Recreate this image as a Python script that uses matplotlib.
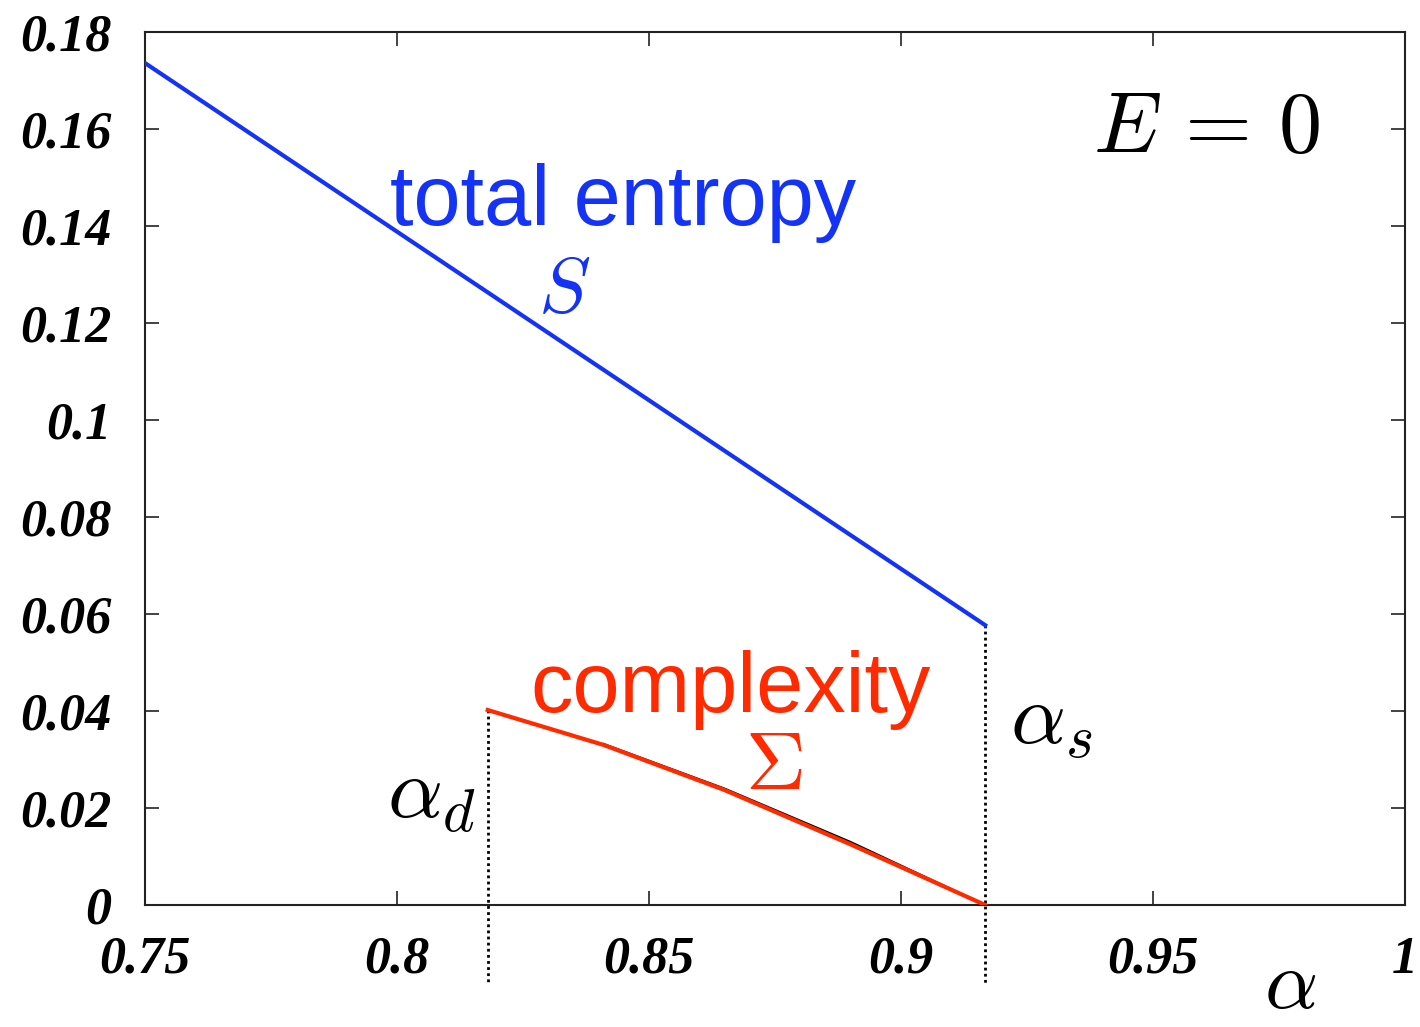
import matplotlib.pyplot as plt

# values
alpha_S = [0.75, 0.9167]
S = [0.1736, 0.0577]

alpha_sigma = [0.818, 0.841, 0.865, 0.890, 0.9167]
sigma = [0.0402, 0.0330, 0.0237, 0.0125, 0.0]

# thin black curve peeking out under the red one
alpha_black = [0.841, 0.865, 0.890, 0.9167]
black = [0.0332, 0.0240, 0.0130, 0.0]

alpha_d = 0.818
alpha_s = 0.9167

xticks = [0.75, 0.8, 0.85, 0.9, 0.95, 1.0]
xticklabels = ['0.75', '0.8', '0.85', '0.9', '0.95', '1']
yticks = [0, 0.02, 0.04, 0.06, 0.08, 0.1, 0.12, 0.14, 0.16, 0.18]
yticklabels = ['0', '0.02', '0.04', '0.06', '0.08', '0.1', '0.12', '0.14', '0.16', '0.18']

blue = '#1433f5'
red = '#ff2a00'

W, H = 1420, 1027

plt.rcParams['mathtext.fontset'] = 'cm'

fig = plt.figure(figsize=(W / 100, H / 100), dpi=100)
ax = fig.add_axes([145 / W, 122 / H, 1260 / W, 873 / H])

ax.plot(alpha_black, black, color='black', lw=1.5, zorder=2)
ax.plot(alpha_S, S, color=blue, lw=3, zorder=3)
ax.plot(alpha_sigma, sigma, color=red, lw=3, zorder=3)

# dotted markers for the transitions, running below the axis
for a, top in [(alpha_d, sigma[0]), (alpha_s, S[-1])]:
    ax.plot([a, a], [top, -0.0165], color='black', lw=2,
            linestyle=(0, (1, 1.2)), clip_on=False, zorder=1)

ax.set_xlim(0.75, 1.0)
ax.set_ylim(0, 0.18)

tick_font = dict(family='Liberation Serif', weight='bold', style='italic', size=37.5)
ax.set_xticks(xticks)
ax.set_xticklabels(xticklabels, fontdict=tick_font)
ax.set_yticks(yticks)
ax.set_yticklabels(yticklabels, fontdict=tick_font)
ax.tick_params(direction='in', length=10, width=1.2, top=True, right=True, color='#222222')
ax.tick_params(axis='x', pad=22)
ax.tick_params(axis='y', pad=24)
for sp in ax.spines.values():
    sp.set_linewidth(1.5)
    sp.set_color('#222222')


# annotations, placed by pixel position (left edge, baseline)
def label(x, y, s, va='baseline', **kw):
    fig.text(x / W, 1 - y / H, s, ha='left', va=va, **kw)


label(390, 225, 'total entropy', color=blue, fontsize=61, family='Liberation Sans')
label(538, 312, '$S$', color=blue, fontsize=56)
label(530, 712, 'complexity', color=red, fontsize=61, family='Liberation Sans')
label(745, 789, r'$\Sigma$', color=red, fontsize=60)
label(1093, 152, r'$E\,=\,0$', color='black', fontsize=62)
label(1010, 743, r'$\alpha_s$', color='black', fontsize=62)
label(387, 817, r'$\alpha_d$', color='black', fontsize=62)
label(1264, 1025, r'$\alpha$', va='bottom', color='black', fontsize=60)

fig.savefig('out.png', dpi=100)
